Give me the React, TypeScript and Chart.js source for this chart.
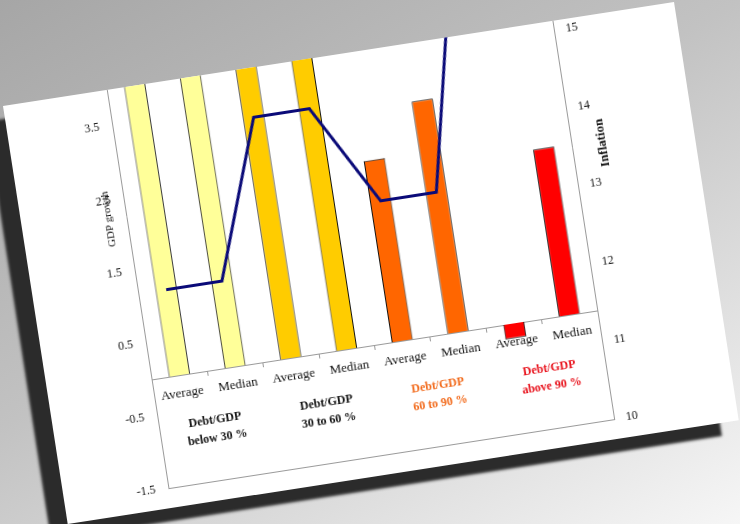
import React, { useEffect, useRef } from 'react';
import { Chart, registerables } from 'chart.js';

Chart.register(...registerables);

const categories = ['Average', 'Median', 'Average', 'Median', 'Average', 'Median', 'Average', 'Median'];
const groupLabels = [
  ['Debt/GDP', 'below 30 %'],
  ['Debt/GDP', '30 to 60 %'],
  ['Debt/GDP', '60 to 90 %'],
  ['Debt/GDP', 'above 90 %'],
];
const groupColors = ['#111111', '#111111', '#f26a1b', '#e8101a'];
const gdpGrowth = [4.7, 4.6, 5.1, 4.9, 2.5, 3.2, -0.2, 2.3];
const inflation = [12.5, 12.5, 14.5, 14.5, 13.2, 13.2, 16.5, 16.2];
const barColors = ['#ffff99', '#ffff99', '#ffcc00', '#ffcc00', '#ff6600', '#ff6600', '#ff0000', '#ff0000'];
const gdpTicks = [-1.5, -0.5, 0.5, 1.5, 2.5, 3.5, 4.5, 5.5];
const inflationTicks = [10, 11, 12, 13, 14, 15, 16, 17];

const FONT = '"Liberation Serif", "Times New Roman", serif';

const framePlugin = {
  id: 'frameAndTitles',
  afterDraw(chart: any) {
    const { ctx, chartArea: a } = chart;
    ctx.save();
    ctx.strokeStyle = '#9a9a9a';
    ctx.lineWidth = 1;
    ctx.beginPath();
    ctx.moveTo(a.left, Math.round(a.bottom) + 0.5);
    ctx.lineTo(a.right, Math.round(a.bottom) + 0.5);
    ctx.stroke();
    const cy = (a.top + a.bottom) / 2;
    ctx.fillStyle = '#111';
    ctx.textAlign = 'center';
    ctx.textBaseline = 'middle';
    ctx.font = `11px ${FONT}`;
    ctx.translate(a.left - 18, cy);
    ctx.rotate(-Math.PI / 2);
    ctx.fillText('GDP growth', 0, 0);
    ctx.restore();
    ctx.save();
    ctx.fillStyle = '#111';
    ctx.textAlign = 'center';
    ctx.textBaseline = 'middle';
    ctx.font = `bold 13px ${FONT}`;
    ctx.translate(a.right + 31, cy);
    ctx.rotate(-Math.PI / 2);
    ctx.fillText('Inflation', 0, 0);
    ctx.restore();
  },
};

export default function App() {
  const ref = useRef<HTMLCanvasElement | null>(null);

  useEffect(() => {
    if (!ref.current) return;
    const chart = new Chart(ref.current, {
      type: 'bar',
      data: {
        labels: categories,
        datasets: [
          {
            type: 'line',
            label: 'Inflation',
            data: inflation,
            yAxisID: 'y1',
            borderColor: '#0a0a78',
            borderWidth: 3,
            pointRadius: 0,
            tension: 0,
            fill: false,
            order: 0,
          } as any,
          {
            type: 'bar',
            label: 'GDP growth',
            data: gdpGrowth,
            yAxisID: 'y',
            backgroundColor: barColors,
            borderColor: '#111111',
            borderWidth: 1,
            categoryPercentage: 1,
            barPercentage: 0.38,
            order: 1,
          },
        ],
      },
      options: {
        animation: false,
        responsive: false,
        maintainAspectRatio: false,
        layout: { padding: { left: 65, right: 83, top: 13, bottom: 20 } },
        plugins: { legend: { display: false }, tooltip: { enabled: false } },
        scales: {
          x: {
            type: 'category',
            position: { y: 0 } as any,
            offset: true,
            grid: { display: true, drawOnChartArea: false, drawTicks: true, tickLength: 4, color: '#9a9a9a', offset: true },
            border: { display: true, color: '#9a9a9a' },
            ticks: { font: { family: FONT, size: 13 }, color: '#111', padding: 7, maxRotation: 0, autoSkip: false },
          },
          x2: {
            type: 'category',
            labels: groupLabels as any,
            position: { y: 0 } as any,
            offset: true,
            grid: { display: false },
            border: { display: false },
            ticks: {
              font: { family: FONT, size: 12, weight: 'bold', lineHeight: 1.5 },
              color: (c: any) => groupColors[c.index],
              padding: 33,
              maxRotation: 0,
              autoSkip: false,
            },
          },
          y: {
            position: 'left',
            min: -1.5,
            max: 6,
            afterBuildTicks: (s: any) => { s.ticks = gdpTicks.map((v) => ({ value: v })); },
            afterFit: (s: any) => { s.width = 40; },
            grid: { display: false },
            border: { display: true, color: '#9a9a9a' },
            ticks: { font: { family: FONT, size: 12 }, color: '#111', padding: 5 },
          },
          y1: {
            position: 'right',
            min: 10,
            max: 17,
            afterBuildTicks: (s: any) => { s.ticks = inflationTicks.map((v) => ({ value: v })); },
            afterFit: (s: any) => { s.width = 40; },
            grid: { display: false },
            border: { display: true, color: '#9a9a9a' },
            ticks: { font: { family: FONT, size: 12 }, color: '#111', padding: 4 },
          },
        },
      },
      plugins: [framePlugin],
    });
    return () => chart.destroy();
  }, []);

  return (
    <div
      style={{
        position: 'fixed',
        left: 0,
        top: 0,
        width: 740,
        height: 524,
        overflow: 'hidden',
        background: 'linear-gradient(150deg, #a6a6a6 0%, #c2c2c2 45%, #f6f6f6 100%)',
      }}
    >
      <div
        style={{
          position: 'absolute',
          left: 3,
          top: 106,
          width: 679,
          height: 423,
          background: '#ffffff',
          transform: 'rotate(-8.8deg)',
          transformOrigin: '0 0',
          boxShadow: '-19px 13px 3px #2b2b2b',
          overflow: 'hidden',
        }}
      >
        <canvas
          ref={ref}
          width={679}
          height={583}
          style={{ position: 'absolute', left: 0, top: -160, width: 679, height: 583, display: 'block' }}
        />
      </div>
    </div>
  );
}
